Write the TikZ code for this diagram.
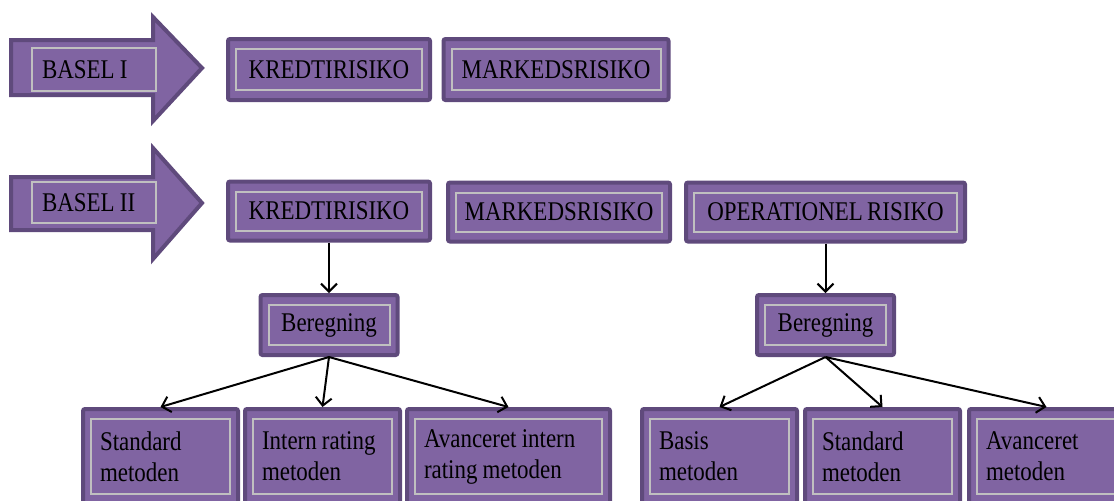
\documentclass[tikz,border=0pt]{standalone}
\usepackage{fontspec}
\setmainfont{Liberation Serif}[FakeStretch=0.85, WordSpace=0.75]
\usetikzlibrary{arrows.meta}
\definecolor{lilla}{HTML}{8064A2}
\definecolor{lillamoerk}{HTML}{5F4A7C}
\definecolor{kantgraa}{HTML}{C0C0C0}
\tikzset{
    boks/.style={draw=lillamoerk, line width=2pt, fill=lilla, rounded corners=1pt,
        path picture={\draw[kantgraa, line width=1pt, sharp corners, fill=none]
            ([shift={(4pt,5pt)}]path picture bounding box.south west) rectangle
            ([shift={(-4pt,-5pt)}]path picture bounding box.north east);}},
    metode/.style={boks, minimum height=47.5pt, inner xsep=8.5pt, text width=60.5pt,
        execute at begin node={\spaceskip=2.6pt\relax}},
    pil/.style={draw=lillamoerk, line width=2pt, fill=lilla},
    pilnavn/.style={draw=kantgraa, line width=1pt, minimum width=62pt, inner xsep=5pt,
        text width=52pt, execute at begin node={\spaceskip=2.6pt\relax}},
    forbindelse/.style={line width=1pt, -{Straight Barb[length=4pt,width=8pt]}}
}
\begin{document}
\begin{tikzpicture}[x=0.5pt, y=-0.5pt, font=\fontsize{13.5}{15.5}\selectfont]
    \useasboundingbox (0, 0) rectangle (1114, 500);
    \clip (0, 0) rectangle (1114, 500);
    \draw[pil] (11, 40) -- (153, 40) -- (153, 17) -- (202, 68) -- (153, 121) -- (153, 95) -- (11, 95) -- cycle;
    \draw[pil] (11, 177) -- (153, 177) -- (153, 148) -- (202, 203) -- (153, 259) -- (153, 230) -- (11, 230) -- cycle;
    \node[pilnavn, minimum height=21.5pt] (basel1) at (94, 69.5) {BASEL I};
    \node[pilnavn, minimum height=20.5pt] (basel2) at (94, 202.5) {BASEL II};
    \node[boks, minimum width=101pt, minimum height=30.5pt] (kredit1) at (329, 69.5) {KREDTIRISIKO};
    \node[boks, minimum width=112.5pt, minimum height=30.5pt] (marked1) at (556, 69.5) {MARKEDSRISIKO};
    \node[boks, minimum width=101pt, minimum height=29.5pt] (kredit2) at (329, 211) {KREDTIRISIKO};
    \node[boks, minimum width=111pt, minimum height=29.5pt] (marked2) at (559, 212) {MARKEDSRISIKO};
    \node[boks, minimum width=139.5pt, minimum height=29.5pt] (operationel) at (825.5, 212) {OPERATIONEL RISIKO};
    \node[boks, minimum width=68.5pt, minimum height=30pt] (beregning1) at (329, 325) {Beregning};
    \node[boks, minimum width=68.5pt, minimum height=30pt] (beregning2) at (825.5, 325) {Beregning};
    \node[metode] (standard1) at (160.5, 456.5) {Standard\\metoden};
    \node[metode] (intern1) at (322.5, 456.5) {Intern rating\\metoden};
    \node[metode, text width=84.5pt] (avanceret1) at (508.5, 456.5) {Avanceret intern\\rating metoden};
    \node[metode] (basis2) at (719.5, 456.5) {Basis\\metoden};
    \node[metode] (standard2) at (882.5, 456.5) {Standard\\metoden};
    \node[metode] (avanceret2) at (1046.5, 456.5) {Avanceret\\metoden};
    \draw[forbindelse] (kredit2.south) -- (beregning1.north);
    \draw[forbindelse] (operationel.south) -- (beregning2.north);
    \draw[forbindelse] (beregning1.south) -- (standard1.north);
    \draw[forbindelse] (beregning1.south) -- (intern1.north);
    \draw[forbindelse] (beregning1.south) -- (avanceret1.north);
    \draw[forbindelse] (beregning2.south) -- (basis2.north);
    \draw[forbindelse] (beregning2.south) -- (standard2.north);
    \draw[forbindelse] (beregning2.south) -- (avanceret2.north);
\end{tikzpicture}
\end{document}
